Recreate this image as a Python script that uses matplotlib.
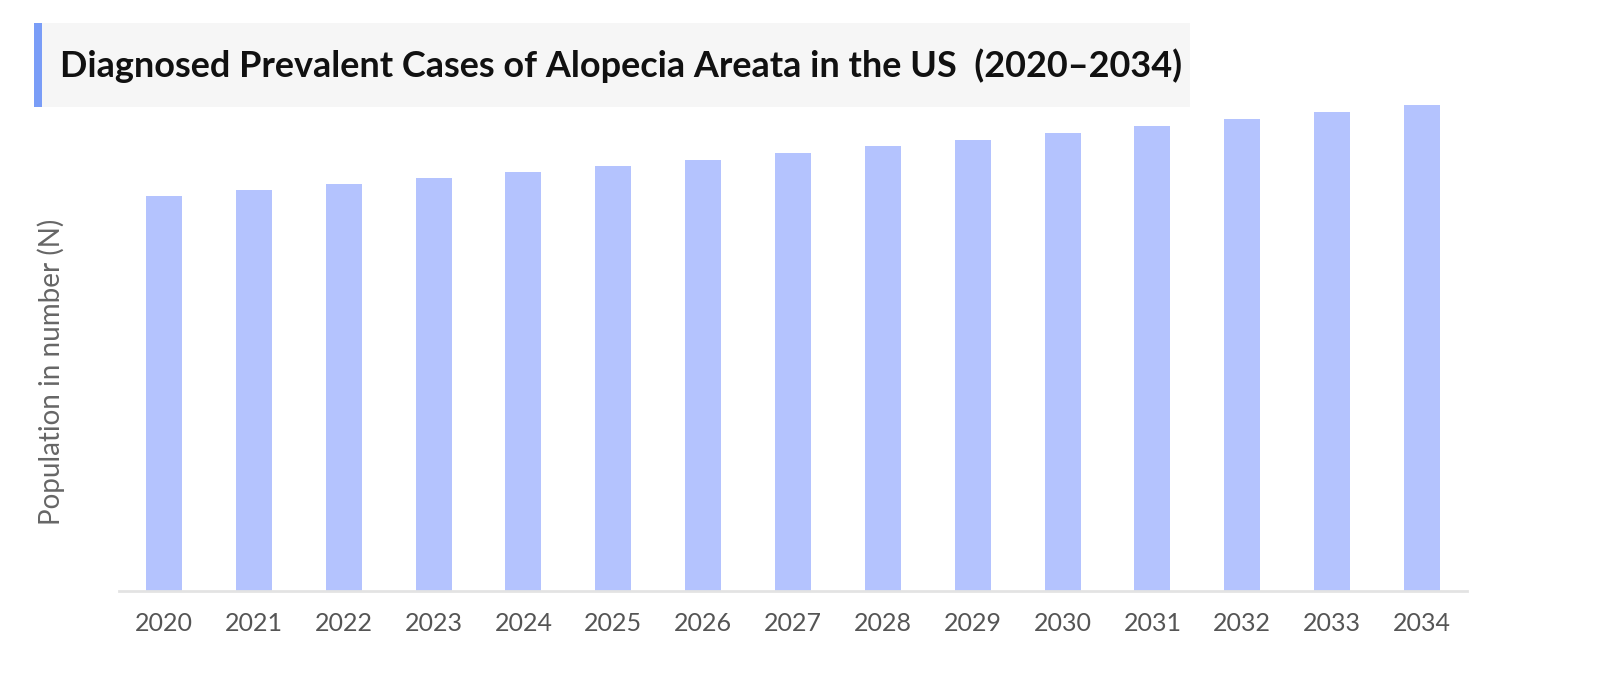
import matplotlib.pyplot as plt
from matplotlib.patches import Rectangle

# Dados (escala arbitrária, sem valores no eixo)
anos = ['2020', '2021', '2022', '2023', '2024', '2025', '2026', '2027',
        '2028', '2029', '2030', '2031', '2032', '2033', '2034']
casos = [395, 401, 407, 413, 419, 425, 431, 438, 445, 451, 458, 465, 472, 479, 486]

titulo = 'Diagnosed Prevalent Cases of Alopecia Areata in the US  (2020\u20132034)'
rotulo_y = 'Population in number (N)'

plt.rcParams['font.family'] = ['Lato', 'DejaVu Sans']

W, H = 1600, 690
fig = plt.figure(figsize=(16, 6.9), dpi=100)

# Eixo principal
ax = fig.add_axes([119 / W, (H - 591) / H, (1467 - 119) / W, 500 / H])
ax.bar(range(len(anos)), casos, width=0.4, color='#b4c3fe')
ax.set_xlim(-0.5, len(anos) - 0.5)
ax.set_ylim(0, 500)
ax.set_xticks(range(len(anos)))
ax.set_xticklabels(anos, fontsize=18, color='#555555')
ax.tick_params(axis='x', length=0, pad=15)
ax.set_yticks([])
for lado in ['top', 'right', 'left']:
    ax.spines[lado].set_visible(False)
ax.spines['bottom'].set_color('#e3e3e3')
ax.spines['bottom'].set_linewidth(2)

# Rótulo do eixo y
fig.text(51 / W, 1 - 372 / H, rotulo_y, rotation=90, fontsize=20,
         color='#666666', ha='center', va='center')

# Caixa do título
fig.patches.append(Rectangle((35 / W, 1 - 107 / H), (1190 - 35) / W, 84 / H,
                             transform=fig.transFigure, facecolor='#f6f6f6',
                             edgecolor='none', zorder=0))
fig.patches.append(Rectangle((34 / W, 1 - 107 / H), 8 / W, 84 / H,
                             transform=fig.transFigure, facecolor='#7a9df7',
                             edgecolor='none', zorder=1))
fig.text(60 / W, 1 - 66 / H, titulo, fontsize=25.9, fontweight='bold',
         color='#111111', ha='left', va='center')

fig.savefig('out.png', dpi=100)
